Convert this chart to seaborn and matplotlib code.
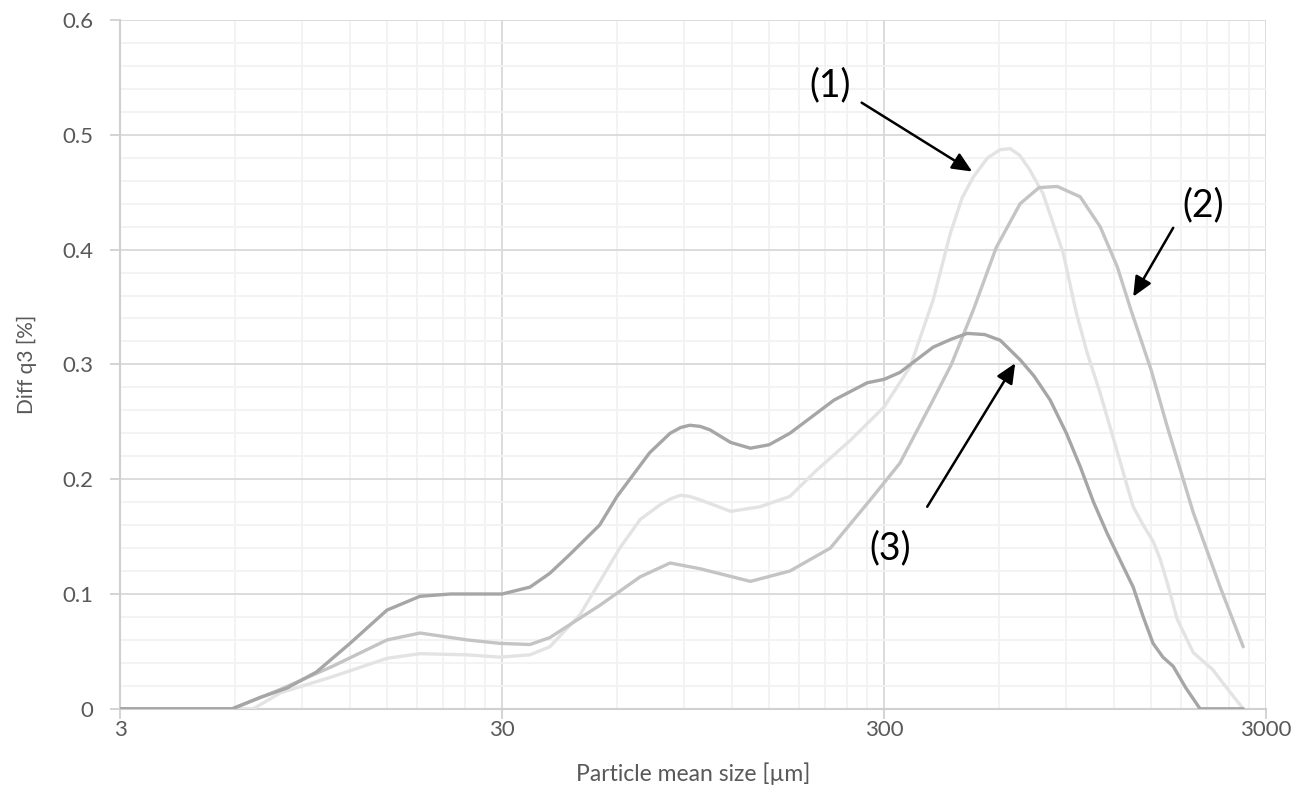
import matplotlib
matplotlib.use("Agg")
import matplotlib.pyplot as plt
from matplotlib.ticker import FixedLocator, NullFormatter, MultipleLocator, FixedFormatter
import pandas as pd
import seaborn as sns

# particle size [um] and Diff q3 [%]
size_1 = [3, 6.7, 7.9, 10.8, 15, 18.3, 24.3, 29.6, 35.5, 40, 48, 61, 69, 78, 83, 88, 93,
          99, 119, 142, 170, 200, 245, 300, 351, 403, 447, 480, 513, 560, 604, 641, 680,
          720, 781, 883, 952, 1020, 1103, 1220, 1346, 1430, 1517, 1585, 1652, 1755, 1933,
          2175, 2317, 2612]
q3_1 = [0, 0, 0.014, 0.028, 0.044, 0.048, 0.047, 0.045, 0.047, 0.054, 0.082, 0.14, 0.165,
        0.178, 0.183, 0.186, 0.185, 0.182, 0.172, 0.176, 0.185, 0.208, 0.234, 0.263, 0.298,
        0.356, 0.414, 0.445, 0.463, 0.48, 0.487, 0.488, 0.482, 0.47, 0.449, 0.397, 0.347,
        0.31, 0.275, 0.225, 0.176, 0.16, 0.146, 0.13, 0.11, 0.078, 0.049, 0.034, 0.022, 0]

size_2 = [3, 5.9, 7.9, 10.8, 15, 18.3, 24.3, 29.6, 35.5, 40, 54, 69, 82.6, 99, 134, 170,
          217, 276, 330, 403, 450, 513, 590, 681, 763, 852, 978, 1103, 1223, 1329, 1500,
          1652, 1933, 2274, 2612]
q3_2 = [0, 0, 0.017, 0.037, 0.060, 0.066, 0.060, 0.057, 0.056, 0.062, 0.09, 0.115, 0.127,
        0.122, 0.111, 0.12, 0.14, 0.182, 0.214, 0.269, 0.30, 0.347, 0.402, 0.44, 0.454,
        0.455, 0.446, 0.42, 0.385, 0.347, 0.295, 0.246, 0.171, 0.106, 0.054]

size_3 = [3, 5.9, 7.0, 8.2, 9.8, 12, 15, 18.3, 22, 30, 35.5, 40, 45, 54, 60, 73, 82.6, 88,
          93, 99, 105, 119, 134, 150, 170, 222, 271, 300, 330, 403, 450, 495, 550, 604, 681,
          740, 816, 900, 978, 1060, 1150, 1250, 1346, 1430, 1517, 1610, 1713, 1850, 2014,
          2612]
q3_3 = [0, 0, 0.010, 0.018, 0.032, 0.057, 0.086, 0.098, 0.100, 0.100, 0.106, 0.118, 0.134,
        0.16, 0.185, 0.223, 0.24, 0.245, 0.247, 0.246, 0.243, 0.232, 0.227, 0.23, 0.240,
        0.269, 0.284, 0.287, 0.293, 0.315, 0.322, 0.327, 0.326, 0.321, 0.304, 0.29, 0.269,
        0.24, 0.211, 0.18, 0.153, 0.128, 0.106, 0.08, 0.057, 0.045, 0.037, 0.018, 0, 0]

x_ticks = [3, 30, 300, 3000]
y_ticks = [0, 0.1, 0.2, 0.3, 0.4, 0.5, 0.6]
y_labels = ["0", "0.1", "0.2", "0.3", "0.4", "0.5", "0.6"]

df = pd.concat([
    pd.DataFrame({"size": size_1, "q3": q3_1, "sample": "(1)"}),
    pd.DataFrame({"size": size_2, "q3": q3_2, "sample": "(2)"}),
    pd.DataFrame({"size": size_3, "q3": q3_3, "sample": "(3)"}),
])

sns.set_theme(style="white")
plt.rcParams["font.family"] = ["Lato", "DejaVu Sans"]
txt = "#595959"

fig = plt.figure(figsize=(13.04, 8), dpi=100)
ax = fig.add_axes([0.092, 0.114, 0.879, 0.861])

pal = {"(1)": "#e3e3e3", "(2)": "#c4c4c4", "(3)": "#a6a6a6"}
sns.lineplot(data=df, x="size", y="q3", hue="sample", palette=pal, linewidth=2.4,
             sort=False, legend=False, ax=ax, zorder=3)
for ln in ax.get_lines():
    ln.set_solid_joinstyle("round")

ax.set_xscale("log")
ax.set_xlim(3, 3000)
ax.set_ylim(0, 0.6)
ax.xaxis.set_major_locator(FixedLocator(x_ticks))
ax.xaxis.set_major_formatter(FixedFormatter([str(v) for v in x_ticks]))
minors = [m * 3 * d for d in (1, 10, 100) for m in range(2, 10)]
ax.xaxis.set_minor_locator(FixedLocator(minors))
ax.xaxis.set_minor_formatter(NullFormatter())
ax.yaxis.set_major_locator(FixedLocator(y_ticks))
ax.yaxis.set_major_formatter(FixedFormatter(y_labels))
ax.yaxis.set_minor_locator(MultipleLocator(0.02))

ax.grid(which="major", color="#d9d9d9", linewidth=1.3)
ax.grid(which="minor", color="#f2f2f2", linewidth=1.3)
ax.set_axisbelow(True)
for s in ("top", "right"):
    ax.spines[s].set_visible(False)
for s in ("left", "bottom"):
    ax.spines[s].set_color("#d0d0d0")
    ax.spines[s].set_linewidth(1.5)
ax.tick_params(which="major", length=7, width=1.3, color="#d0d0d0", labelsize=16,
               labelcolor=txt, left=True, bottom=True)
ax.tick_params(axis="y", pad=12)
ax.tick_params(axis="x", pad=1)
ax.tick_params(which="minor", length=0)

ax.set_xlabel("Particle mean size [µm]", fontsize=16.5, color=txt, labelpad=16)
ax.set_ylabel("Diff q3 [%]", fontsize=15, color=txt, labelpad=18)

arrow = dict(arrowstyle="-|>,head_length=1.0,head_width=0.45", color="black", lw=1.8,
             shrinkA=0, shrinkB=0)
ax.annotate("", xy=(510, 0.468), xytext=(262, 0.528), arrowprops=arrow)
ax.annotate("", xy=(1346, 0.359), xytext=(1713, 0.419), arrowprops=arrow)
ax.annotate("", xy=(661, 0.301), xytext=(389, 0.176), arrowprops=arrow)
ax.text(217, 0.543, "(1)", fontsize=27, ha="center", va="center", color="black")
ax.text(2052, 0.439, "(2)", fontsize=27, ha="center", va="center", color="black")
ax.text(311, 0.140, "(3)", fontsize=27, ha="center", va="center", color="black")

fig.savefig("out.png", dpi=100)
